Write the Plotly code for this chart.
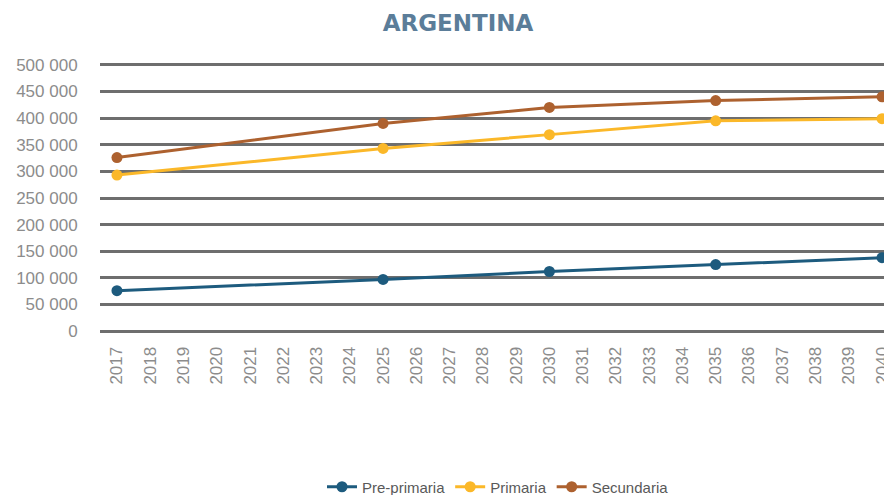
import plotly.graph_objects as go

years = [str(y) for y in range(2017, 2041)]
point_years = [2017, 2025, 2030, 2035, 2040]
pre_primaria = [76000, 97000, 112000, 125000, 138000]
primaria = [293000, 343000, 369000, 395000, 399000]
secundaria = [326000, 390000, 420000, 433000, 440000]
y_ticks = [0, 50000, 100000, 150000, 200000, 250000, 300000, 350000, 400000, 450000, 500000]
y_ticktext = ["0", "50 000", "100 000", "150 000", "200 000", "250 000", "300 000",
              "350 000", "400 000", "450 000", "500 000"]

series = [
    ("Pre-primaria", pre_primaria, "#1d5b7e"),
    ("Primaria", primaria, "#fbb829"),
    ("Secundaria", secundaria, "#ad612f"),
]

fig = go.Figure()
for name, vals, col in series:
    fig.add_trace(go.Scatter(
        x=point_years, y=vals, name=name, mode="lines+markers",
        line=dict(color=col, width=3), marker=dict(color=col, size=11),
        cliponaxis=False,
    ))

# The page has an 8px body margin; figure is sized/offset to compensate.
W, H = 884, 487
fig.update_layout(
    width=W, height=H,
    margin=dict(l=92, r=0, t=55, b=162, autoexpand=False),
    paper_bgcolor="white", plot_bgcolor="white",
    title=dict(text="<b>ARGENTINA</b>", x=450/W, xref="container", xanchor="center",
               y=1-15/H, yref="container", yanchor="middle",
               font=dict(family="DejaVu Sans", size=23, color="#5b7d99")),
    legend=dict(orientation="h", x=490/W, xref="container", xanchor="center",
                y=8/H, yref="container", yanchor="middle",
                font=dict(family="Liberation Sans", size=15, color="#595959")),
    showlegend=True,
)
fig.update_xaxes(
    range=[2016.49, 2040.3], tickvals=[int(y) for y in years], ticktext=years,
    tickangle=-90, showgrid=False, zeroline=False, showline=False, automargin=False,
    tickfont=dict(family="Liberation Sans", size=17, color="#8c8c8c"),
    ticks="outside", ticklen=6, tickcolor="white",
)
fig.update_yaxes(
    range=[-3500, 503500], tickvals=y_ticks, ticktext=y_ticktext,
    showgrid=True, gridcolor="#6e6e6e", gridwidth=2.5, zeroline=False, automargin=False,
    tickfont=dict(family="Liberation Sans", size=17, color="#8c8c8c"),
    ticks="outside", ticklen=18, tickcolor="white",
)

fig.write_html("out.html")
